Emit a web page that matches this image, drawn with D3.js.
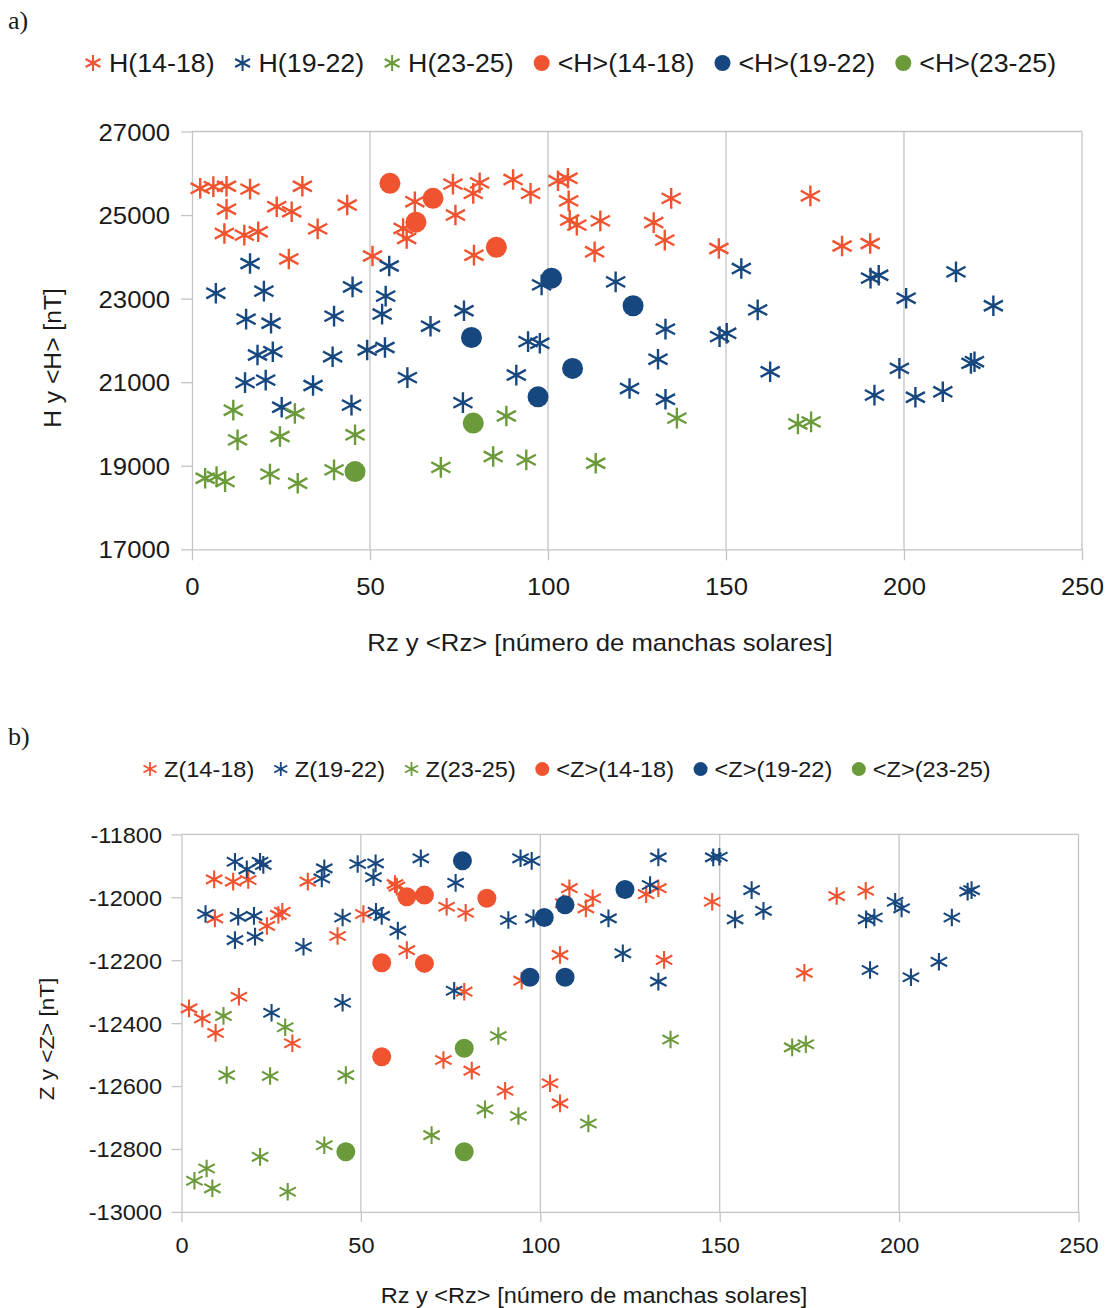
<!DOCTYPE html>
<html>
<head>
<meta charset="utf-8">
<script src="https://cdn.jsdelivr.net/npm/d3@7"></script>
<style>
  body { margin: 0; background: #fff; }
  text { font-family: "Liberation Sans", Arial, sans-serif; fill: #1a1a1a; }
</style>
</head>
<body>
<svg id="chart" width="1110" height="1308"></svg>
<script>
// ---- data ----
const xTickValues = [0, 50, 100, 150, 200, 250];
const hTickValues = [17000, 19000, 21000, 23000, 25000, 27000];
const zTickValues = [-13000, -12800, -12600, -12400, -12200, -12000, -11800];

const hNames = ["H(14-18)", "H(19-22)", "H(23-25)", "<H>(14-18)", "<H>(19-22)", "<H>(23-25)"];
const zNames = ["Z(14-18)", "Z(19-22)", "Z(23-25)", "<Z>(14-18)", "<Z>(19-22)", "<Z>(23-25)"];
const xTitle = "Rz y <Rz> [número de manchas solares]";

// [Rz, H]
const h1418 = [[2.3,25640],[6.0,25680],[9.7,25690],[16.3,25620],[31.0,25690],[9.7,25140],[23.8,25200],
  [28.0,25080],[43.6,25240],[9.1,24560],[14.7,24520],[18.6,24600],[35.3,24670],[27.2,23950],[50.7,24020],
  [62.6,25320],[73.3,25740],[80.8,25770],[79.0,25520],[74.0,25000],[59.3,24680],[60.3,24440],[79.2,24040],
  [90.2,25850],[95.1,25520],[102.8,25820],[105.6,25880],[105.8,25340],[106.1,24880],[108.1,24760],
  [114.7,24860],[134.6,25400],[129.7,24820],[132.8,24400],[113.1,24120],[148.0,24200],[173.7,25460],
  [182.6,24260],[190.5,24320]];
const h1922 = [[16.3,23840],[6.7,23130],[20.2,23180],[45.1,23280],[55.4,23780],[54.4,23060],[53.4,22630],
  [15.2,22510],[22.2,22410],[39.9,22580],[67.0,22340],[76.4,22710],[18.4,21650],[22.7,21730],[39.5,21610],
  [49.2,21770],[54.2,21830],[14.9,20990],[20.7,21050],[34.0,20920],[60.5,21110],[25.2,20400],[44.8,20450],
  [76.1,20510],[98.2,23330],[119.0,23400],[154.3,23720],[158.9,22730],[133.0,22270],[148.2,22090],
  [150.2,22170],[94.4,21970],[97.7,21930],[91.1,21170],[130.9,21550],[162.4,21250],[122.9,20850],
  [133.0,20590],[190.6,23490],[192.9,23560],[200.6,23010],[214.6,23640],[225.1,22830],[198.7,21330],
  [191.7,20690],[203.2,20640],[210.9,20770],[218.8,21450],[219.8,21490]];
const h2325 = [[11.6,20330],[28.9,20250],[12.8,19620],[24.7,19700],[45.8,19740],[3.7,18700],[6.9,18740],
  [9.3,18620],[21.9,18800],[29.7,18580],[39.9,18900],[69.9,18960],[84.6,19220],[88.3,20190],[136.2,20140],
  [93.9,19140],[113.4,19060],[170.2,20000],[173.9,20050]];
const hMean1418 = [[55.6,25760],[67.7,25400],[62.9,24830],[85.5,24230]];
const hMean1922 = [[78.5,22070],[101.0,23490],[123.9,22830],[106.9,21330],[97.2,20650]];
const hMean2325 = [[45.8,18860],[79.0,20020]];

// [Rz, Z]
const z1418 = [[9.1,-11943],[14.4,-11950],[18.6,-11945],[35.2,-11950],[9.3,-12067],[23.8,-12091],
  [27.0,-12056],[28.1,-12046],[43.5,-12123],[50.7,-12053],[59.5,-11958],[60.0,-11966],[73.9,-12030],
  [79.2,-12049],[62.8,-12168],[16.0,-12316],[2.1,-12353],[5.8,-12385],[9.5,-12431],[30.9,-12464],
  [78.8,-12300],[73.0,-12517],[80.9,-12551],[108.1,-11971],[114.6,-12003],[112.7,-12035],[106.4,-12019],
  [129.5,-11990],[132.9,-11971],[147.9,-12014],[105.5,-12183],[134.5,-12199],[94.8,-12265],[90.2,-12615],
  [102.7,-12591],[105.5,-12655],[182.6,-11996],[190.7,-11979],[173.6,-12240]];
const z1922 = [[14.9,-11887],[18.2,-11911],[21.9,-11887],[22.8,-11897],[39.8,-11908],[39.1,-11940],
  [49.1,-11894],[54.1,-11892],[53.5,-11936],[66.7,-11876],[76.4,-11954],[6.7,-12053],[15.8,-12062],
  [20.2,-12059],[14.9,-12136],[20.5,-12125],[34.0,-12157],[44.9,-12064],[54.2,-12046],[55.8,-12059],
  [60.3,-12106],[25.1,-12367],[44.9,-12335],[76.0,-12297],[94.5,-11876],[97.6,-11884],[132.9,-11873],
  [148.2,-11873],[149.9,-11871],[130.6,-11961],[158.9,-11977],[162.2,-12043],[154.3,-12070],[91.1,-12072],
  [98.1,-12067],[119.0,-12067],[123.0,-12178],[132.9,-12268],[190.8,-12070],[193.1,-12064],[198.9,-12014],
  [200.7,-12035],[214.7,-12064],[219.1,-11982],[220.2,-11977],[191.9,-12231],[203.3,-12254],[211.1,-12205]];
const z2325 = [[11.7,-12377],[28.9,-12413],[12.6,-12565],[24.7,-12568],[45.8,-12565],[7.0,-12862],
  [3.6,-12901],[8.6,-12925],[21.9,-12825],[29.6,-12936],[39.8,-12788],[69.7,-12756],[84.6,-12674],
  [88.3,-12441],[136.3,-12452],[93.9,-12695],[113.4,-12719],[170.2,-12477],[174.0,-12467]];
const zMean1418 = [[62.8,-11998],[67.7,-11993],[85.1,-12003],[55.8,-12208],[67.7,-12210],[55.8,-12507]];
const zMean1922 = [[78.3,-11884],[123.6,-11975],[101.1,-12064],[106.9,-12024],[97.1,-12254],[106.9,-12254]];
const zMean2325 = [[45.8,-12809],[78.8,-12480],[78.8,-12809]];

// ---- styles ----
const colors = ["#ef5330", "#17477f", "#6a9a3a"];
const gridColor = "#c4c4c4";
const stretchX = 1.07;

const svg = d3.select("#chart");

// the source text is drawn a bit wider than Liberation Sans
function stretch(sel) {
  sel.each(function () {
    const w = this.getComputedTextLength();
    this.setAttribute("textLength", w * stretchX);
    this.setAttribute("lengthAdjust", "spacingAndGlyphs");
    this.__width = w * stretchX;
  });
  return sel;
}

function starPath(r) {
  const dx = r * 0.93, dy = r * 0.5;
  return `M0,${-r}V${r}M${-dx},${-dy}L${dx},${dy}M${-dx},${dy}L${dx},${-dy}`;
}

function drawMarker(g, kind, cx, cy, color, r, sw) {
  if (kind === "star") {
    g.append("path").attr("d", starPath(r))
      .attr("transform", `translate(${cx},${cy})`)
      .attr("fill", "none").attr("stroke", color).attr("stroke-width", sw);
  } else {
    g.append("circle").attr("cx", cx).attr("cy", cy).attr("r", r).attr("fill", color);
  }
}

function drawPanel(p) {
  const g = svg.append("g");
  const x = d3.scaleLinear().domain([0, 250]).range([p.left, p.right]);
  const y = d3.scaleLinear().domain(d3.extent(p.yTicks)).range([p.bottom, p.top]);

  // panel letter
  g.append("text").attr("x", 8).attr("y", p.letterY)
    .style("font-family", '"Liberation Serif", "Times New Roman", serif')
    .attr("font-size", 26).text(p.letter);

  // vertical grid + top border
  g.append("g").selectAll("line").data(xTickValues.slice(1)).join("line")
    .attr("x1", d => x(d)).attr("x2", d => x(d))
    .attr("y1", p.top).attr("y2", p.bottom)
    .attr("stroke", gridColor).attr("stroke-width", 1.3);
  g.append("line").attr("x1", p.left).attr("x2", p.right)
    .attr("y1", p.top).attr("y2", p.top)
    .attr("stroke", gridColor).attr("stroke-width", 1.3);

  // axes
  const yAxis = g.append("g").attr("transform", `translate(${p.left},0)`)
    .call(d3.axisLeft(y).tickValues(p.yTicks).tickSize(p.tickLen).tickSizeOuter(0)
      .tickPadding(p.pad).tickFormat(d => String(d)));
  const xAxis = g.append("g").attr("transform", `translate(0,${p.bottom})`)
    .call(d3.axisBottom(x).tickValues(xTickValues).tickSize(p.tickLen).tickSizeOuter(0)
      .tickFormat(d => String(d)));
  [yAxis, xAxis].forEach(a => {
    a.attr("font-family", null).attr("font-size", null);
    a.select(".domain").attr("stroke", gridColor).attr("stroke-width", 1.3);
    a.selectAll(".tick line").attr("stroke", gridColor).attr("stroke-width", 1.3);
    a.selectAll(".tick text").attr("fill", "#1a1a1a").attr("font-size", p.tickFs);
  });
  yAxis.selectAll(".tick text").attr("dy", "0.36em");
  xAxis.selectAll(".tick text").attr("y", p.xLabelOffset).attr("dy", 0);
  stretch(g.selectAll(".tick text"));

  // points: asterisks first, then the means
  p.series.forEach((data, i) => {
    const color = colors[i % 3];
    const kind = i < 3 ? "star" : "dot";
    const sg = g.append("g");
    data.forEach(d => drawMarker(sg, kind, x(d[0]), y(d[1]), color,
      kind === "star" ? p.starR : p.dotR, p.starW));
  });

  // legend
  const lg = g.append("g");
  let lx = p.legendX;
  p.names.forEach((name, i) => {
    const kind = i < 3 ? "star" : "dot";
    drawMarker(lg, kind, lx, p.legendY - p.legendFs * 0.36, colors[i % 3],
      kind === "star" ? p.legendStarR : p.legendDotR, p.starW * 0.85);
    const t = lg.append("text").attr("x", lx + p.legendGap).attr("y", p.legendY)
      .attr("font-size", p.legendFs).text(name);
    stretch(t);
    lx += p.legendGap + t.node().__width + p.legendSpace;
  });

  // titles
  stretch(g.append("text")
    .attr("transform", `translate(${p.yTitleX},${p.yTitleY}) rotate(-90)`)
    .attr("text-anchor", "middle").attr("font-size", p.yTitleFs).text(p.yTitle));
  stretch(g.append("text").attr("x", p.xTitleX).attr("y", p.xTitleY)
    .attr("text-anchor", "middle").attr("font-size", p.xTitleFs).text(xTitle));
}

drawPanel({
  letter: "a)", letterY: 29,
  left: 192, right: 1082, top: 131.5, bottom: 549.3,
  yTicks: hTickValues, tickLen: 11, pad: 11, tickFs: 24, xLabelOffset: 46,
  series: [h1418, h1922, h2325, hMean1418, hMean1922, hMean2325],
  starR: 10.3, dotR: 10.5, starW: 2.4,
  names: hNames, legendX: 93, legendY: 72, legendFs: 25, legendGap: 16, legendSpace: 28,
  legendStarR: 8, legendDotR: 8,
  yTitle: "H y <H> [nT]", yTitleX: 61, yTitleY: 358, yTitleFs: 23,
  xTitleX: 600, xTitleY: 651, xTitleFs: 24
});

drawPanel({
  letter: "b)", letterY: 745,
  left: 181.5, right: 1078.5, top: 834.4, bottom: 1211.9,
  yTicks: zTickValues, tickLen: 10, pad: 9.5, tickFs: 22, xLabelOffset: 41,
  series: [z1418, z1922, z2325, zMean1418, zMean1922, zMean2325],
  starR: 8.8, dotR: 9.5, starW: 2.1,
  names: zNames, legendX: 150, legendY: 777, legendFs: 22, legendGap: 14, legendSpace: 26.5,
  legendStarR: 7, legendDotR: 7,
  yTitle: "Z y <Z> [nT]", yTitleX: 54, yTitleY: 1039, yTitleFs: 21,
  xTitleX: 594, xTitleY: 1303, xTitleFs: 22
});
</script>
</body>
</html>
